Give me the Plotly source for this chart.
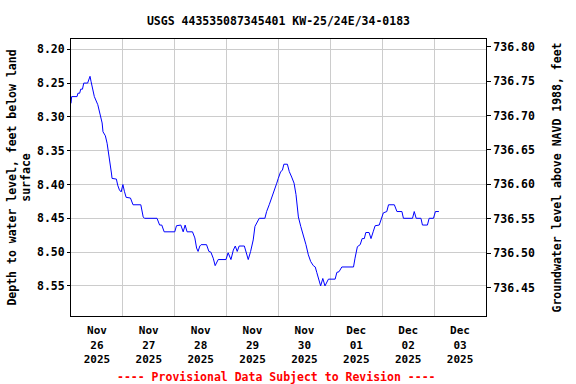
import pandas as pd
import plotly.graph_objects as go

# ---- data ----
hours = [0.0, 0.3, 2.8, 3.2, 4.0, 4.5, 5.3, 5.9, 7.7, 8.1, 8.8, 9.3, 10.8, 12.4, 13.4, 14.4,
         14.8, 15.9, 16.7, 17.5, 18.3, 18.7, 19.0, 21.0, 21.6, 22.4, 23.2, 24.0, 24.7, 25.5,
         27.5, 28.7, 32.3, 33.4, 34.0, 39.8, 41.0, 42.0, 43.1, 48.0, 48.8, 50.8, 51.9, 52.8,
         53.7, 56.2, 57.3, 58.1, 58.8, 59.6, 60.2, 62.7, 63.8, 64.7, 65.8, 66.7, 68.1, 71.7,
         72.7, 74.0, 75.1, 76.0, 76.9, 77.8, 80.2, 80.9, 82.0, 83.1, 84.3, 85.1, 86.2, 87.1,
         89.7, 90.5, 91.7, 92.8, 93.9, 95.2, 95.9, 97.0, 97.8, 98.5, 100.1, 101.0, 102.1,
         103.2, 104.1, 104.4, 105.2, 106.3, 107.5, 108.7, 109.8, 110.9, 112.1, 113.0, 113.7,
         114.4, 115.5, 116.5, 117.5, 119.1, 122.2, 123.0, 124.0, 125.3, 130.7, 131.4, 132.5,
         133.8, 134.7, 135.7, 136.4, 137.9, 138.8, 139.8, 140.7, 142.6, 143.5, 144.5, 146.1,
         146.9, 149.6, 150.8, 153.1, 153.8, 158.0, 158.8, 159.7, 161.9, 162.6, 164.9, 165.7,
         167.7, 168.6, 170.2]
depth = [8.280, 8.270, 8.270, 8.265, 8.265, 8.259, 8.259, 8.250, 8.250, 8.245, 8.240, 8.248,
         8.270, 8.282, 8.295, 8.309, 8.322, 8.328, 8.339, 8.354, 8.369, 8.383, 8.391, 8.392,
         8.401, 8.408, 8.411, 8.400, 8.410, 8.419, 8.420, 8.430, 8.430, 8.448, 8.450, 8.450,
         8.460, 8.460, 8.470, 8.470, 8.461, 8.460, 8.470, 8.460, 8.470, 8.470, 8.479, 8.494,
         8.499, 8.491, 8.489, 8.489, 8.499, 8.500, 8.509, 8.520, 8.511, 8.511, 8.501, 8.511,
         8.497, 8.491, 8.499, 8.491, 8.491, 8.500, 8.511, 8.499, 8.482, 8.462, 8.455, 8.450,
         8.450, 8.440, 8.430, 8.420, 8.413, 8.398, 8.391, 8.381, 8.379, 8.370, 8.370, 8.381,
         8.389, 8.398, 8.415, 8.428, 8.448, 8.462, 8.475, 8.489, 8.504, 8.514, 8.520, 8.522,
         8.530, 8.539, 8.550, 8.539, 8.550, 8.540, 8.540, 8.530, 8.529, 8.522, 8.522, 8.509,
         8.492, 8.489, 8.480, 8.480, 8.471, 8.471, 8.480, 8.470, 8.461, 8.460, 8.452, 8.442,
         8.440, 8.430, 8.430, 8.440, 8.440, 8.450, 8.450, 8.440, 8.450, 8.450, 8.460, 8.460,
         8.450, 8.450, 8.440, 8.440]
start_date = "2025-11-26"
datum = 745.0  # land-surface datum, ft above NAVD 1988
day_labels = ["Nov<br>26<br>2025", "Nov<br>27<br>2025", "Nov<br>28<br>2025", "Nov<br>29<br>2025",
              "Nov<br>30<br>2025", "Dec<br>01<br>2025", "Dec<br>02<br>2025", "Dec<br>03<br>2025"]
left_ticks = [8.20, 8.25, 8.30, 8.35, 8.40, 8.45, 8.50, 8.55]
right_ticks = [736.45, 736.50, 736.55, 736.60, 736.65, 736.70, 736.75, 736.80]

title_text = "USGS 443535087345401 KW-25/24E/34-0183"
left_title = "Depth to water level, feet below land<br>surface"
right_title = "Groundwater level above NAVD 1988, feet"
footer = "---- Provisional Data Subject to Revision ----"

# ---- build ----
t0 = pd.Timestamp(start_date)
times = t0 + pd.to_timedelta(hours, unit="h")
elev = [datum - d for d in depth]
midnights = [t0 + pd.Timedelta(days=i) for i in range(9)]
noons = [t0 + pd.Timedelta(days=i, hours=12) for i in range(8)]

FONT = "DejaVu Sans Mono"
fnt = dict(family=FONT, size=11.5, color="black", weight="bold")
xfnt = dict(family=FONT, size=11, color="black", weight="bold")

fig = go.Figure()
fig.add_trace(go.Scatter(x=times, y=depth, mode="lines",
                         line=dict(color="#0000ff", width=1), showlegend=False))
fig.add_trace(go.Scatter(x=times, y=elev, mode="lines", yaxis="y2",
                         line=dict(color="rgba(0,0,0,0)", width=0), showlegend=False,
                         hoverinfo="skip"))

fig.update_layout(
    width=576, height=384,
    margin=dict(l=71, r=90, t=39, b=68),
    paper_bgcolor="white", plot_bgcolor="white",
    font=fnt,
    title=dict(text=title_text, x=0.4835, xanchor="center", y=1 - 21 / 384, yanchor="middle",
               font=fnt),
    xaxis=dict(range=[midnights[0], midnights[-1]], tickmode="array", tickvals=noons,
               ticktext=day_labels, ticks="", showgrid=False, showline=True, linecolor="black",
               linewidth=1, mirror=True, zeroline=False, tickfont=xfnt, automargin=False,
               ticklabelstandoff=4,
               minor=dict(tickmode="array", tickvals=midnights, showgrid=True,
                          gridcolor="#cccccc", gridwidth=1, ticks="")),
    yaxis=dict(range=[8.5945, 8.1848], tickmode="array", tickvals=left_ticks,
               tickformat=".2f", ticks="outside", ticklen=3, tickcolor="black",
               showgrid=True, gridcolor="#cccccc", gridwidth=1, showline=True,
               linecolor="black", linewidth=1, zeroline=False, tickfont=fnt, automargin=False,
               title=dict(text=left_title, font=fnt, standoff=3)),
    yaxis2=dict(overlaying="y", side="right", range=[736.409, 736.811], tickmode="array",
                tickvals=right_ticks, tickformat=".2f", ticks="outside", ticklen=4,
                tickcolor="black", showgrid=False, showline=True, linecolor="black",
                linewidth=1, zeroline=False, tickfont=fnt, automargin=False,
                title=dict(text=right_title, font=fnt, standoff=19)),
    annotations=[dict(text=footer, xref="paper", yref="paper", x=0.496, y=-0.22,
                      xanchor="center", yanchor="middle", showarrow=False,
                      font=dict(family=FONT, size=11.5, color="red", weight="bold"))],
)

fig.write_html("out.html", config={"displayModeBar": False},
               post_script="document.body.style.margin='0';")
